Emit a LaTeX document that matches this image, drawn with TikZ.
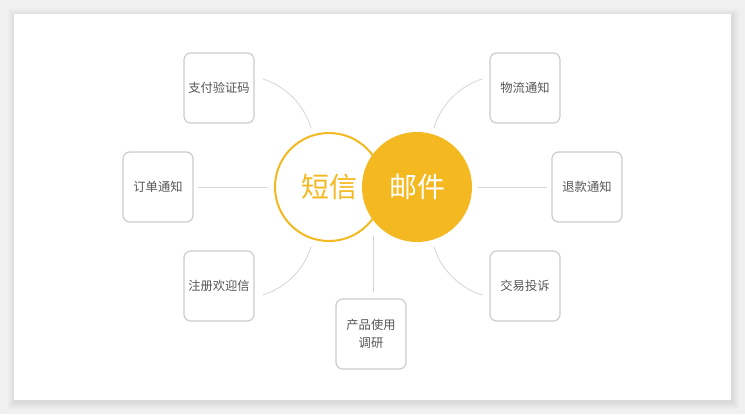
\documentclass[tikz,border=0pt]{standalone}
\usepackage{fontspec}
\setmainfont{Noto Sans CJK SC}
\usetikzlibrary{calc}
\definecolor{bggray}{HTML}{F0F0F0}
\definecolor{mailyellow}{HTML}{F4B920}
\definecolor{boxline}{HTML}{CCCCCC}
\definecolor{linkline}{HTML}{D6D6D6}
\definecolor{txtgray}{HTML}{555555}
\tikzset{
  topic/.style={draw=boxline, line width=0.9pt, rounded corners=5pt, fill=white,
    minimum width=52.5pt, minimum height=52.5pt, text width=48pt, align=center,
    inner sep=0pt, font=\fontsize{9.2pt}{13pt}\selectfont, text=txtgray},
  link/.style={draw=linkline, line width=0.6pt},
}
\begin{document}
\begin{tikzpicture}[x=0.75pt,y=-0.75pt]
    \useasboundingbox (0,0) rectangle (745,414);
    \fill[bggray] (0,0) rectangle (745,414);
    % card with soft shadow
    \foreach \s in {1,...,7}
      \fill[black,opacity=0.012] (14-\s+1,14-\s+2) rectangle (731+\s+1,400+\s+2);
    \fill[white] (14,14) rectangle (731,400);
    % topics
    \node[topic] (zhifu) at (219,88) {支付验证码};
    \node[topic] (dingdan) at (158,187) {订单通知};
    \node[topic] (zhuce) at (219,286) {注册欢迎信};
    \node[topic] (diaoyan) at (371,334) {产品使用\\调研};
    \node[topic] (wuliu) at (525,88) {物流通知};
    \node[topic] (tuikuan) at (587,187) {退款通知};
    \node[topic] (jiaoyi) at (525,286) {交易投诉};
    % centre
    \node[circle, draw=mailyellow, line width=1.5pt, fill=white, minimum size=81pt,
      inner sep=0pt, text=mailyellow, font=\fontsize{21pt}{21pt}\selectfont] (sms) at (329,187) {短信};
    \node[circle, fill=mailyellow, minimum size=82.5pt, inner sep=0pt, text=white,
      font=\fontsize{21pt}{21pt}\selectfont] (mail) at (417,187) {邮件};
    % free ends of the curved links
    \coordinate (zhifuA) at (263,79);
    \coordinate (zhifuB) at (311,128);
    \coordinate (zhuceA) at (263,295);
    \coordinate (zhuceB) at (311,247);
    \coordinate (wuliuA) at (482,79);
    \coordinate (wuliuB) at (434,128);
    \coordinate (jiaoyiA) at (482,295);
    \coordinate (jiaoyiB) at (434,247);
    \coordinate (diaoyanA) at (373,236);
    % links
    \draw[link, shorten <=3pt, shorten >=4.5pt] (dingdan) -- (sms);
    \draw[link, shorten <=3pt, shorten >=4.5pt] (tuikuan) -- (mail);
    \draw[link, shorten >=5pt] (diaoyanA) -- (diaoyanA |- diaoyan.north);
    \draw[link] (zhifuA) .. controls (285,86) and (304,104) .. (zhifuB);
    \draw[link] (zhuceA) .. controls (285,288) and (304,270) .. (zhuceB);
    \draw[link] (wuliuA) .. controls (460,86) and (441,104) .. (wuliuB);
    \draw[link] (jiaoyiA) .. controls (460,288) and (441,270) .. (jiaoyiB);
\end{tikzpicture}
\end{document}
